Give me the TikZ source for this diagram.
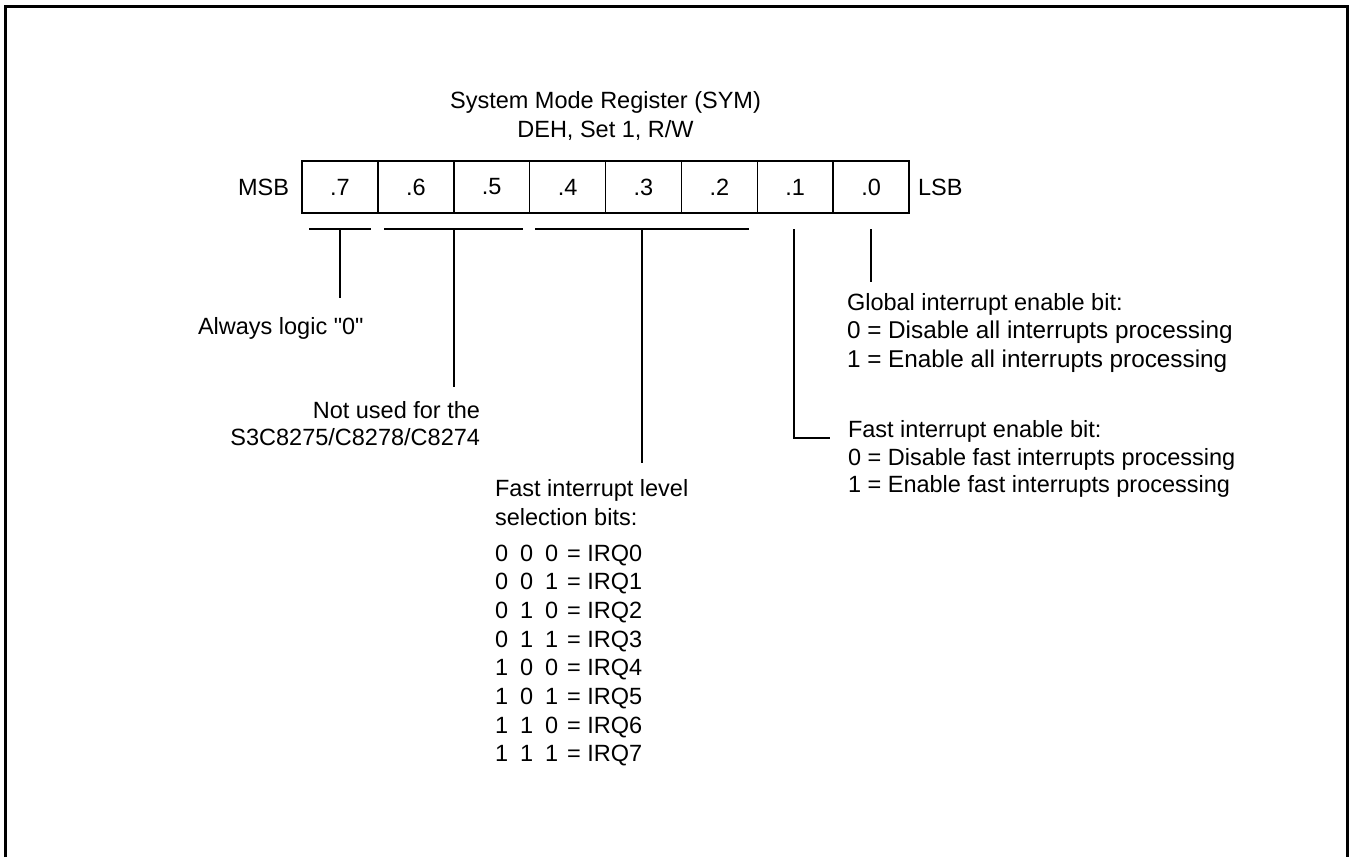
\documentclass[tikz,border=0pt]{standalone}
\usepackage{fontspec}
\setmainfont{Liberation Sans}[Ligatures=TeXOff]
\begin{document}
\begin{tikzpicture}[x=1pt,y=-1pt,
  font=\fontsize{23.5}{28.5}\selectfont,
  frameline/.style={line width=3pt},
  cell/.style={draw, line width=1.5pt, minimum width=75.9pt, minimum height=52pt, inner sep=0pt, outer sep=0pt},
  lead/.style={line width=1.5pt},
  txt/.style={inner sep=0pt, outer sep=0pt},
  bigtxt/.style={txt, font=\fontsize{24.3}{28.5}\selectfont}]
\useasboundingbox (0,0) rectangle (1354,857);
% frame (open at bottom)
\draw[frameline] (5.5,857) -- (5.5,6) -- (1347.5,6) -- (1347.5,857);
% title
\node[txt, anchor=base] (title1) at (605.5,108) {System Mode Register (SYM)};
\node[txt, anchor=base] (title2) at (605.5,137) {DEH, Set 1, R/W};
% register cells
\node[cell] (b7) at (339.9,187) {.7};
\node[cell] (b6) at (415.8,187) {.6};
\node[cell] (b5) at (491.7,187) {.5};
\node[cell] (b4) at (567.6,187) {.4};
\node[cell] (b3) at (643.4,187) {.3};
\node[cell] (b2) at (719.3,187) {.2};
\node[cell] (b1) at (795.2,187) {.1};
\node[cell] (b0) at (871.1,187) {.0};
\node[txt, anchor=east] (msb) at (289,187) {MSB};
\node[txt, anchor=west] (lsb) at (918,187) {LSB};
% brackets
\coordinate (k7a) at (309,229);  \coordinate (k7b) at (371,229);
\coordinate (k65a) at (384,229); \coordinate (k65b) at (523,229);
\coordinate (k42a) at (535,229); \coordinate (k42b) at (749,229);
\coordinate (k7) at (340,229);   \coordinate (e7) at (340,298);
\coordinate (k65) at (454,229);  \coordinate (e65) at (454,387);
\coordinate (k42) at (642,229);  \coordinate (e42) at (642,463);
\coordinate (k1) at (794,229);   \coordinate (c1) at (794,438); \coordinate (e1) at (830,438);
\coordinate (k0) at (871,229);   \coordinate (e0) at (871,282);
\draw[lead] (k7a) -- (k7b);
\draw[lead] (k65a) -- (k65b);
\draw[lead] (k42a) -- (k42b);
\draw[lead] (k7) -- (e7);
\draw[lead] (k65) -- (e65);
\draw[lead] (k42) -- (e42);
\draw[lead] (k1) -- (c1) -- (e1);
\draw[lead] (k0) -- (e0);
% labels
\node[txt, anchor=base west] (always) at (198,334) {Always logic "0"};
\node[txt, anchor=base east] (nu1) at (480,418) {Not used for the};
\node[txt, anchor=base east] (nu2) at (480,445) {S3C8275/C8278/C8274};
\node[txt, anchor=base west] (gl1) at (847,310) {Global interrupt enable bit:};
\node[bigtxt, anchor=base west] (gl2) at (847,338.5) {0 = Disable all interrupts processing};
\node[bigtxt, anchor=base west] (gl3) at (847,367) {1 = Enable all interrupts processing};
\node[txt, anchor=base west] (fe1) at (848,437) {Fast interrupt enable bit:};
\node[txt, anchor=base west] (fe2) at (848,465) {0 = Disable fast interrupts processing};
\node[txt, anchor=base west] (fe3) at (848,492) {1 = Enable fast interrupts processing};
\node[txt, anchor=base west] (fl1) at (495,496) {Fast interrupt level};
\node[txt, anchor=base west] (fl2) at (495,525) {selection bits:};
\foreach \a/\b/\c/\q [count=\n from 0] in {0/0/0/0,0/0/1/1,0/1/0/2,0/1/1/3,1/0/0/4,1/0/1/5,1/1/0/6,1/1/1/7}{
  \node[txt, anchor=base west] (irq\q) at (495,561+28.7*\n) {\a\hspace{12pt}\b\hspace{12pt}\c\hspace{9pt}= IRQ\q};
}
\end{tikzpicture}
\end{document}
